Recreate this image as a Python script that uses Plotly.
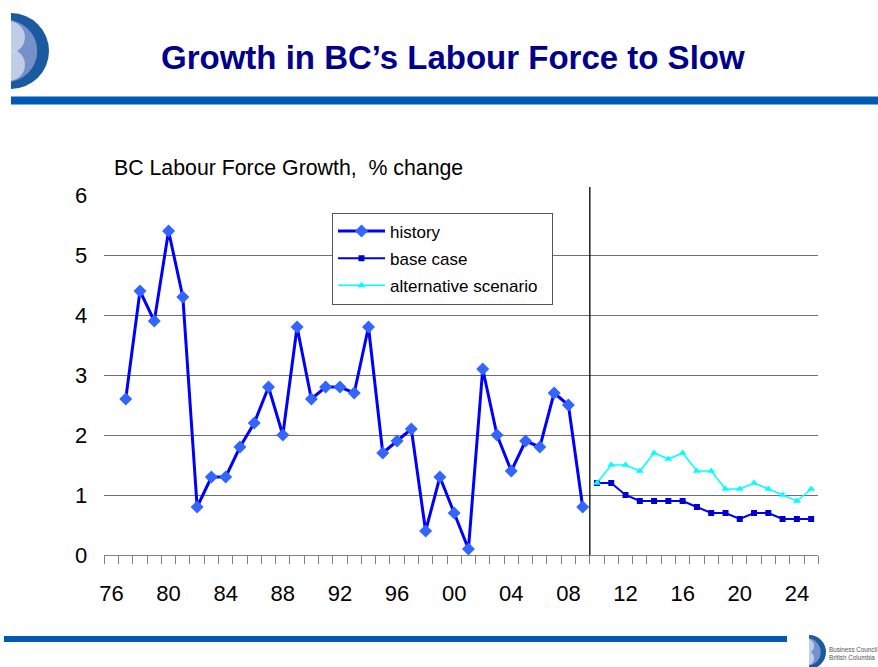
import plotly.graph_objects as go

W, H = 878, 667

# ---- data ----
hist_years = list(range(1977, 2010))
hist_vals = [2.6, 4.4, 3.9, 5.4, 4.3, 0.8, 1.3, 1.3, 1.8, 2.2, 2.8, 2.0, 3.8, 2.6,
             2.8, 2.8, 2.7, 3.8, 1.7, 1.9, 2.1, 0.4, 1.3, 0.7, 0.1, 3.1, 2.0, 1.4,
             1.9, 1.8, 2.7, 2.5, 0.8]
fc_years = list(range(2010, 2026))
base_vals = [1.2, 1.2, 1.0, 0.9, 0.9, 0.9, 0.9, 0.8, 0.7, 0.7, 0.6, 0.7, 0.7, 0.6, 0.6, 0.6]
alt_vals = [1.2, 1.5, 1.5, 1.4, 1.7, 1.6, 1.7, 1.4, 1.4, 1.1, 1.1, 1.2, 1.1, 1.0, 0.9, 1.1]
tick_years = list(range(1976, 2026, 4))
tick_labels = ["76", "80", "84", "88", "92", "96", "00", "04", "08", "12", "16", "20", "24"]
y_ticks = [0, 1, 2, 3, 4, 5, 6]

FONT = "Liberation Sans, Arial, sans-serif"


def px(x):
    return x / W


def py(y):
    return 1 - y / H


fig = go.Figure()
fig.add_trace(go.Scatter(
    x=hist_years, y=hist_vals, name="history", mode="lines+markers",
    line=dict(color="#0000FF", width=3),
    marker=dict(symbol="diamond", size=10, color="#3366FF"),
    legendgroup="a"))
fig.add_trace(go.Scatter(
    x=fc_years, y=base_vals, name="base case", mode="lines+markers",
    line=dict(color="#0000EE", width=2),
    marker=dict(symbol="square", size=6, color="#0000CC"),
    legendgroup="b"))
fig.add_trace(go.Scatter(
    x=fc_years, y=alt_vals, name="alternative scenario\u00a0\u00a0",
    mode="lines+markers",
    line=dict(color="#00FFFF", width=1.5),
    marker=dict(symbol="triangle-up", size=7, color="#00FFFF"),
    legendgroup="c"))

shapes = []
# top blue bar
shapes.append(dict(type="rect", xref="paper", yref="paper",
                   x0=px(11), x1=px(878), y0=py(104.5), y1=py(96.5),
                   fillcolor="#0059B3", line=dict(width=0), layer="above"))
# bottom blue bar
shapes.append(dict(type="rect", xref="paper", yref="paper",
                   x0=px(4), x1=px(805), y0=py(642), y1=py(636),
                   fillcolor="#0059B3", line=dict(width=0), layer="above"))


def logo(cx, cy, r, clipx):
    s = []
    s.append(dict(type="circle", xref="paper", yref="paper",
                  x0=px(cx - r), x1=px(cx + r), y0=py(cy + r), y1=py(cy - r),
                  fillcolor="#1A5AA0", line=dict(width=0), layer="above"))
    r2 = r * 0.82
    c2 = cx - r * 0.13
    s.append(dict(type="circle", xref="paper", yref="paper",
                  x0=px(c2 - r2), x1=px(c2 + r2), y0=py(cy + r2), y1=py(cy - r2),
                  fillcolor="#7592C8", line=dict(width=0), layer="above"))
    r3 = r * 0.42
    for dy in (-0.36, 0.36):
        c3y = cy + dy * r
        s.append(dict(type="circle", xref="paper", yref="paper",
                      x0=px(cx - r3 - 2), x1=px(cx + r3 - 2), y0=py(c3y + r3), y1=py(c3y - r3),
                      fillcolor="#C9D4EB", opacity=0.9, line=dict(width=0), layer="above"))
    s.append(dict(type="rect", xref="paper", yref="paper",
                  x0=px(cx - r - 5), x1=px(clipx), y0=py(cy + r + 2), y1=py(cy - r - 2),
                  fillcolor="white", line=dict(width=0), layer="above"))
    return s


shapes += logo(11, 51, 38, 11)
shapes += logo(809, 652, 17, 809)

# forecast divider
shapes.append(dict(type="line", xref="x", yref="paper",
                   x0=2009.5, x1=2009.5, y0=py(555), y1=py(187),
                   line=dict(color="black", width=1.3), layer="above"))

annotations = [
    dict(text="<b>Growth in BC’s Labour Force to Slow</b>", xref="paper", yref="paper",
         x=px(453), y=py(58), xanchor="center", yanchor="middle", showarrow=False,
         font=dict(family=FONT, size=33, color="#00008B")),
    dict(text="BC Labour Force Growth,\u00a0 % change", xref="paper", yref="paper",
         x=px(112), y=py(167.5), xanchor="left", yanchor="middle", showarrow=False,
         font=dict(family=FONT, size=21.3, color="black")),
    dict(text="Business Council<br>British Columbia", xref="paper", yref="paper",
         x=px(827), y=py(653), xanchor="left", yanchor="middle", showarrow=False,
         align="left", font=dict(family=FONT, size=6.3, color="#555555")),
]

fig.update_layout(
    width=W, height=H,
    margin=dict(l=0, r=0, t=0, b=0, pad=0, autoexpand=False),
    paper_bgcolor="white", plot_bgcolor="white",
    showlegend=True,
    legend=dict(x=px(332), y=py(212.5), xanchor="left", yanchor="top",
                bgcolor="white", bordercolor="#555555", borderwidth=1,
                font=dict(family=FONT, size=17, color="black"),
                tracegroupgap=2, itemwidth=47),
    shapes=shapes,
    annotations=annotations,
    xaxis=dict(domain=[px(104.3), px(818.3)], range=[1975.5, 2025.5],
               automargin=False,
               tickmode="array", tickvals=tick_years, ticktext=tick_labels,
               ticks="", showgrid=False, zeroline=False,
               showline=True, linecolor="#808080", linewidth=1,
               tickfont=dict(family=FONT, size=22, color="black"),
               ticklabelstandoff=19,
               minor=dict(ticks="outside", tick0=1975.5, dtick=1, ticklen=8,
                          tickcolor="#808080", tickwidth=1, showgrid=False)),
    yaxis=dict(domain=[py(555), py(195)], range=[0, 6],
               automargin=False,
               tickmode="array", tickvals=y_ticks,
               showgrid=True, gridcolor="#707070", gridwidth=1,
               zeroline=False, showline=False, ticks="",
               tickfont=dict(family=FONT, size=22, color="black"),
               ticklabelstandoff=16),
)

post = (
    "document.documentElement.style.margin='0';"
    "document.body.style.margin='0';document.body.style.overflow='hidden';"
)

fig.write_html("out.html", config={"displayModeBar": False}, post_script=post)
